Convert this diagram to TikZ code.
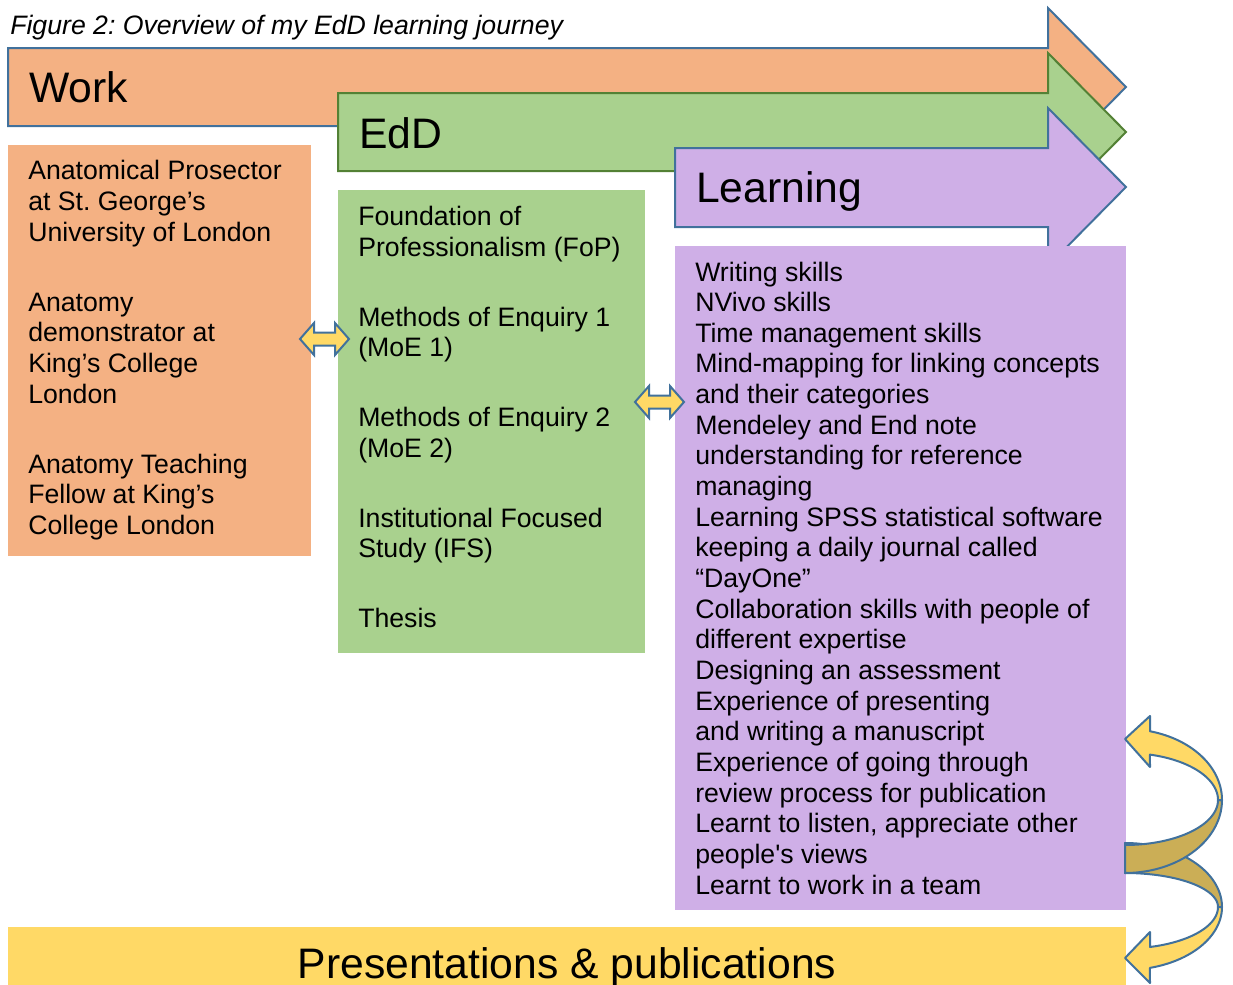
\documentclass[tikz,border=0pt]{standalone}
\usepackage{fontspec}
\setmainfont{Liberation Sans}
\usepackage{tikz}
\usetikzlibrary{positioning}
\frenchspacing
\definecolor{workfill}{HTML}{F4B183}
\definecolor{eddfill}{HTML}{A9D18E}
\definecolor{learnfill}{HTML}{CFAFE7}
\definecolor{pubfill}{HTML}{FFD966}
\definecolor{pubdark}{HTML}{CBAE56}
\definecolor{edgeblue}{HTML}{41719C}
\definecolor{edgegreen}{HTML}{538135}
\tikzset{
  bigarrow/.style={line width=1.5pt, line join=miter},
  biglabel/.style={anchor=base west, inner sep=0pt, font=\fontsize{32}{38}\selectfont},
  itemtext/.style={anchor=base west, inner sep=0pt, font=\fontsize{20}{23}\selectfont},
  swaparrow/.style={fill=pubfill, draw=edgeblue, line width=1.5pt, line join=miter},
  curlface/.style={fill=pubfill, draw=edgeblue, line width=1.5pt, line join=round},
  curlback/.style={fill=pubdark, draw=edgeblue, line width=1.5pt, line join=round}
}

\begin{document}
\begin{tikzpicture}[x=0.75pt,y=-0.75pt]
\useasboundingbox (0,0) rectangle (1233,985);
\node[anchor=base west, inner sep=0pt, font=\fontsize{20}{23}\selectfont\itshape] (title) at (10,34) {Figure 2: Overview of my EdD learning journey};

\draw[bigarrow, fill=workfill, draw=edgeblue] (8,48) -- (1048,48) -- (1048,8) -- (1126,87) -- (1048,166) -- (1048,126) -- (8,126) -- cycle;
\draw[bigarrow, fill=eddfill, draw=edgegreen] (338,93) -- (1048,93) -- (1048,53) -- (1126,132) -- (1048,211) -- (1048,171) -- (338,171) -- cycle;
\draw[bigarrow, fill=learnfill, draw=edgeblue] (675,148) -- (1048,148) -- (1048,108) -- (1126,187) -- (1048,266) -- (1048,227) -- (675,227) -- cycle;
\node[biglabel] (work) at (29,102) {Work};
\node[biglabel] (edd) at (359,148) {EdD};
\node[biglabel] (learning) at (696,202) {Learning};

\fill[workfill] (8,145) rectangle (311,556);
\fill[eddfill] (338,190) rectangle (645,653);
\fill[learnfill] (675,246) rectangle (1126,910);
\fill[pubfill] (8,927) rectangle (1126,985);

\foreach \y/\txt [count=\i] in {179.5/Anatomical Prosector, 210/at St. George's, 241/University of London,
  311/Anatomy, 341.5/demonstrator at, 372/King's College, 403/London,
  473/Anatomy Teaching, 503.5/Fellow at King's, 534/College London}
  \node[itemtext] (work\i) at (28,\y) {\txt};

\foreach \y/\txt [count=\i] in {225.5/Foundation of, 256/Professionalism (FoP),
  326/Methods of Enquiry 1, 356.5/(MoE 1),
  426.5/Methods of Enquiry 2, 457/(MoE 2),
  527/Institutional Focused, 557.5/Study (IFS),
  627/Thesis}
  \node[itemtext] (edd\i) at (358,\y) {\txt};

\foreach \txt [count=\i] in {Writing skills, NVivo skills, Time management skills,
  Mind-mapping for linking concepts, and their categories, Mendeley and End note,
  understanding for reference, managing, Learning SPSS statistical software,
  keeping a daily journal called, “DayOne”, Collaboration skills with people of,
  different expertise, Designing an assessment, Experience of presenting,
  and writing a manuscript, Experience of going through, review process for publication,
  {Learnt to listen, appreciate other}, people\textquotesingle s views, Learnt to work in a team}
  \node[itemtext] (learn\i) at (695,{281+30.65*(\i-1)}) {\txt};

\node[anchor=base, inner sep=0pt, font=\fontsize{32}{38}\selectfont] (pub) at (567,978) {Presentations \& publications};

\foreach \cx/\cy [count=\i] in {324.5/339, 659.5/402}
  \draw[swaparrow, shift={(\cx,\cy)}] (-24.5,0) -- (-10.5,-16) -- (-10.5,-6.5) -- (10.5,-6.5) -- (10.5,-16) -- (24.5,0)
    -- (10.5,16) -- (10.5,6.5) -- (-10.5,6.5) -- (-10.5,16) -- cycle;

% lower curved arrow
\draw[curlback] plot[domain=-90:0, samples=40, variable=\a] ({1125+97*cos(\a)},{907+64*sin(\a)})
  -- (1218,907) -- plot[domain=0:-90, samples=40, variable=\a] ({1125+93*cos(\a)},{907+34*sin(\a)}) -- cycle;
\draw[curlface] plot[domain=0:75.1, samples=40, variable=\a] ({1125+97*cos(\a)},{907+63*sin(\a)})
  -- (1150,983) -- (1125,958) -- (1150,932)
  -- plot[domain=74.4:0, samples=40, variable=\a] ({1125+93*cos(\a)},{907+41.5*sin(\a)}) -- cycle;

% upper curved arrow
\draw[curlback] plot[domain=0:90, samples=40, variable=\a] ({1125+97*cos(\a)},{800+73*sin(\a)})
  -- (1125,845) -- plot[domain=90:0, samples=40, variable=\a] ({1125+93*cos(\a)},{800+45*sin(\a)}) -- cycle;
\draw[curlface] plot[domain=-75.5:0, samples=40, variable=\a] ({1126+96*cos(\a)},{800+71*sin(\a)})
  -- plot[domain=0:-74.9, samples=40, variable=\a] ({1126+92*cos(\a)},{800+47*sin(\a)})
  -- (1150,767) -- (1125,739) -- (1150,716) -- cycle;
\end{tikzpicture}
\end{document}
